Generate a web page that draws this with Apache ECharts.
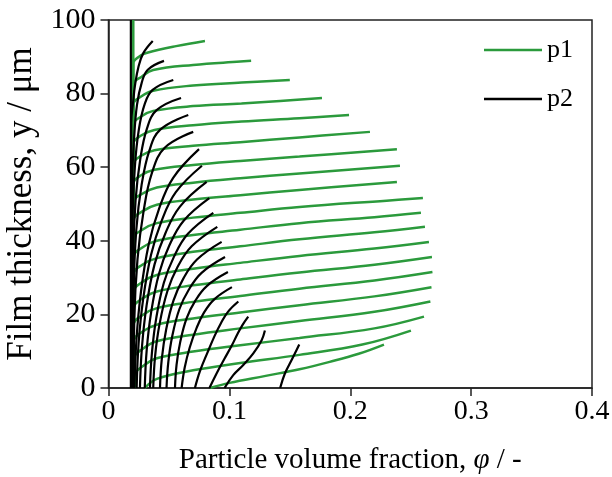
<!DOCTYPE html>
<html>
<head>
<meta charset="utf-8">
<script src="https://cdn.jsdelivr.net/npm/echarts@6/dist/echarts.min.js"></script>
<style>
html, body { margin: 0; padding: 0; background: #fff; }
#chart { width: 612px; height: 477px; }
</style>
</head>
<body>
<div id="chart"></div>
<script>
// axis ticks
var xTicks = [0, 0.1, 0.2, 0.3, 0.4];
var yTicks = [0, 20, 40, 60, 80, 100];

// p1 profiles [phi, y], one per time step (top to bottom)
var g0 = [[0.0205, 0], [0.0205, 100]];
var g1 = [[0.0205, 0], [0.0205, 88.2], [0.026, 90.2], [0.032, 91.1], [0.056, 92.9], [0.0798, 94.3]];
var g2 = [[0.0205, 0], [0.0205, 82.5], [0.0275, 84.6], [0.037, 86.4], [0.07, 87.8], [0.109, 88.7], [0.118, 88.9]];
var g3 = [[0.0205, 0], [0.0205, 77], [0.027, 79.2], [0.037, 80.8], [0.07, 82.2], [0.11, 83.0], [0.15, 83.7]];
var g4 = [[0.0205, 0], [0.0205, 71.5], [0.027, 73.8], [0.037, 75.3], [0.07, 76.6], [0.11, 77.3], [0.142, 78.0], [0.1766, 78.8]];
var g5 = [[0.0205, 0], [0.0205, 66.3], [0.027, 68.6], [0.038, 70.1], [0.07, 71.4], [0.11, 72.4], [0.158, 73.3], [0.199, 74.2]];
var g6 = [[0.0205, 0], [0.0205, 60.8], [0.027, 63.1], [0.038, 64.6], [0.07, 65.8], [0.109, 66.8], [0.158, 68.1], [0.2163, 69.6]];
var g7 = [[0.0205, 0], [0.0205, 55.5], [0.027, 57.8], [0.038, 59.3], [0.07, 60.6], [0.109, 61.7], [0.158, 62.9], [0.2386, 64.9]];
var g8 = [[0.0205, 0], [0.0205, 50.5], [0.028, 52.8], [0.04, 54.5], [0.07, 55.8], [0.109, 57], [0.158, 58.3], [0.2411, 60.4]];
var g9 = [[0.0205, 0], [0.0205, 45.5], [0.028, 48], [0.04, 49.8], [0.07, 51.2], [0.109, 52.4], [0.158, 53.8], [0.2386, 56]];
var g10 = [[0.0205, 0], [0.0205, 40.5], [0.028, 43], [0.04, 44.8], [0.07, 46.3], [0.109, 47.6], [0.158, 49.2], [0.23, 50.9], [0.2601, 51.6]];
var g11 = [[0.0205, 0], [0.0205, 35.5], [0.028, 38.2], [0.04, 40], [0.07, 41.6], [0.109, 43], [0.158, 44.8], [0.22, 46.4], [0.2585, 47.6]];
var g12 = [[0.0205, 0], [0.0205, 30.8], [0.028, 33.5], [0.04, 35.3], [0.07, 37], [0.109, 38.5], [0.158, 40.4], [0.22, 42.3], [0.2618, 43.8]];
var g13 = [[0.0205, 0], [0.0205, 26], [0.028, 28.8], [0.04, 30.7], [0.07, 32.4], [0.109, 34], [0.158, 35.9], [0.22, 37.9], [0.2651, 39.7]];
var g14 = [[0.0205, 0], [0.0205, 21.5], [0.028, 24.3], [0.04, 26.2], [0.07, 27.9], [0.109, 29.5], [0.158, 31.4], [0.22, 33.5], [0.2676, 35.6]];
var g15 = [[0.0205, 0], [0.0205, 17], [0.028, 19.8], [0.04, 21.7], [0.07, 23.4], [0.109, 25], [0.158, 27], [0.22, 29.2], [0.268, 31.5]];
var g16 = [[0.0205, 0], [0.0205, 12.5], [0.028, 15.3], [0.04, 17.2], [0.07, 18.9], [0.109, 20.5], [0.158, 22.5], [0.22, 24.9], [0.2672, 27.4]];
var g17 = [[0.021, 0], [0.021, 8], [0.029, 10.8], [0.04, 12.7], [0.07, 14.5], [0.109, 16.2], [0.158, 18.2], [0.22, 20.7], [0.2663, 23.5]];
var g18 = [[0.022, 0], [0.022, 3.5], [0.03, 6.3], [0.04, 8.1], [0.07, 9.9], [0.109, 11.6], [0.158, 13.6], [0.22, 16.2], [0.261, 19.4]];
var g19 = [[0.03, 0], [0.04, 2.5], [0.07, 4.8], [0.109, 6.8], [0.158, 9.0], [0.21, 11.8], [0.2502, 15.6]];
var g20 = [[0.084, 0], [0.1, 1.4], [0.13, 3.3], [0.158, 5.1], [0.183, 7.1], [0.207, 9.3], [0.2279, 11.8]];

// p2 profiles [phi, y]
var b0 = [[0.0185, 0], [0.0185, 100]];
var b1 = [[0.0187, 0], [0.0188, 72], [0.0205, 78], [0.0218, 82], [0.0248, 87.3], [0.0288, 91], [0.0366, 94.3]];
var b2 = [[0.019, 0], [0.0195, 55], [0.0212, 68], [0.0236, 77], [0.0275, 83], [0.0325, 86.5], [0.0459, 88.9]];
var b3 = [[0.0194, 0], [0.0199, 45], [0.0218, 60], [0.025, 70], [0.0298, 77], [0.0365, 81], [0.0536, 83.7]];
var b4 = [[0.0198, 0], [0.0203, 35], [0.0224, 51], [0.0262, 62], [0.0318, 70.5], [0.0398, 75.5], [0.06, 78.8]];
var b5 = [[0.0203, 0], [0.0208, 26], [0.023, 43], [0.0273, 55], [0.0338, 64.5], [0.0428, 70.2], [0.066, 74.2]];
var b6 = [[0.0208, 0], [0.0213, 18], [0.024, 35], [0.029, 48], [0.036, 58.5], [0.0465, 65.3], [0.0701, 69.6]];
var b7 = [[0.0215, 0], [0.0231, 13], [0.0268, 26], [0.0332, 38.9], [0.0418, 48.7], [0.0535, 57.1], [0.0749, 64.9]];
var b8 = [[0.0233, 0], [0.0249, 12.1], [0.0287, 24.2], [0.0352, 36.2], [0.0438, 45.3], [0.0557, 53.2], [0.0773, 60.4]];
var b9 = [[0.026, 0], [0.0277, 11.2], [0.0315, 22.4], [0.0381, 33.6], [0.047, 42], [0.0591, 49.3], [0.0812, 56]];
var b10 = [[0.030, 0], [0.0316, 10.3], [0.0353, 20.6], [0.0417, 31], [0.0503, 38.7], [0.062, 45.4], [0.0834, 51.6]];
var b11 = [[0.0343, 0], [0.0359, 9.5], [0.0395, 19], [0.0458, 28.6], [0.0542, 35.7], [0.0657, 41.9], [0.0867, 47.6]];
var b12 = [[0.037, 0], [0.0386, 8.8], [0.0423, 17.5], [0.0487, 26.3], [0.0571, 32.9], [0.0688, 38.5], [0.09, 43.8]];
var b13 = [[0.0426, 0], [0.0441, 7.9], [0.0477, 15.9], [0.0538, 23.8], [0.062, 29.8], [0.0732, 34.9], [0.0936, 39.7]];
var b14 = [[0.048, 0], [0.0495, 7.1], [0.0528, 14.2], [0.0586, 21.4], [0.0664, 26.7], [0.077, 31.3], [0.0964, 35.6]];
var b15 = [[0.055, 0], [0.0563, 6.3], [0.0594, 12.6], [0.0646, 18.9], [0.0716, 23.6], [0.0813, 27.7], [0.0988, 31.5]];
var b16 = [[0.0605, 0], [0.063, 5.5], [0.0672, 11], [0.073, 16.4], [0.0792, 20.6], [0.0875, 24.1], [0.1021, 27.4]];
var b17 = [[0.0715, 0], [0.0758, 4.7], [0.0816, 9.4], [0.0877, 14.1], [0.093, 17.6], [0.0988, 20.7], [0.1074, 23.5]];
var b18 = [[0.0835, 0], [0.0893, 3.9], [0.0957, 7.8], [0.1021, 11.6], [0.1066, 14.6], [0.1108, 17.1], [0.1156, 19.4]];
var b19 = [[0.096, 0], [0.1032, 3.5], [0.1115, 6.25], [0.1198, 9.4], [0.1267, 13], [0.1294, 15.6]];
var b20 = [[0.142, 0], [0.146, 4], [0.1515, 7.6], [0.1556, 10.3], [0.1578, 11.8]];

var p1Curves = [g0, g1, g2, g3, g4, g5, g6, g7, g8, g9, g10, g11, g12, g13, g14, g15, g16, g17, g18, g19, g20];
var p2Curves = [b0, b1, b2, b3, b4, b5, b6, b7, b8, b9, b10, b11, b12, b13, b14, b15, b16, b17, b18, b19, b20];

var green = '#2b9a3c';
var font = 'Liberation Serif';

var series = [];
p1Curves.forEach(function (c) {
	series.push({
		name: 'p1', type: 'line', data: c, symbol: 'none', smooth: 0.4,
		lineStyle: { color: green, width: 2.5 }, itemStyle: { color: green }
	});
});
p2Curves.forEach(function (c) {
	series.push({
		name: 'p2', type: 'line', data: c, symbol: 'none', smooth: 0.4,
		lineStyle: { color: '#000', width: 2.2 }, itemStyle: { color: '#000' }
	});
});

var chart = echarts.init(document.getElementById('chart'));
chart.setOption({
	animation: false,
	grid: {
		left: 108.5, right: 20, top: 20, bottom: 89, containLabel: false, outerBoundsMode: 'none',
		show: true, borderColor: '#222', borderWidth: 1.5
	},
	legend: {
		data: ['p1', 'p2'], orient: 'vertical', right: 34, top: 32,
		icon: 'rect', itemWidth: 58, itemHeight: 2.5, itemGap: 23,
		textStyle: { fontFamily: font, fontSize: 26, color: '#000' }
	},
	xAxis: {
		type: 'value', min: 0, max: 0.4, interval: 0.1,
		axisLine: { lineStyle: { color: '#222', width: 1.5 } },
		axisTick: { length: 8, lineStyle: { color: '#222', width: 1.5 } },
		splitLine: { show: false },
		axisLabel: { fontFamily: font, fontSize: 28, color: '#000', margin: 10 },
		name: 'Particle volume fraction, {i|φ} / -', nameLocation: 'middle', nameGap: 58,
		nameTextStyle: { fontFamily: font, fontSize: 29, color: '#000', rich: { i: { fontFamily: font, fontSize: 29, fontStyle: 'italic' } } }
	},
	yAxis: {
		type: 'value', min: 0, max: 100, interval: 20,
		axisLine: { lineStyle: { color: '#222', width: 1.5 } },
		axisTick: { length: 8, lineStyle: { color: '#222', width: 1.5 } },
		splitLine: { show: false },
		axisLabel: { fontFamily: font, fontSize: 30, color: '#000', margin: 13 },
		name: 'Film thickness, y / μm', nameLocation: 'middle', nameGap: 69,
		nameTextStyle: { fontFamily: font, fontSize: 35, color: '#000' }
	},
	series: series
});
</script>
</body>
</html>
